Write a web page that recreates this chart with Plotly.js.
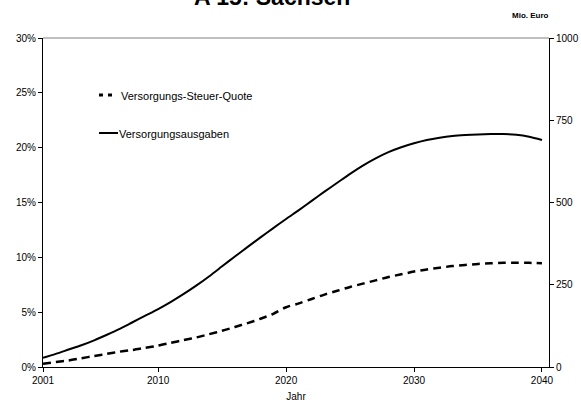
<!DOCTYPE html>
<html>
<head>
<meta charset="utf-8">
<script src="https://cdn.plot.ly/plotly-3.0.1.min.js"></script>
<style>html,body{margin:0;padding:0;background:#fff;}#chart{width:581px;height:410px;}</style>
</head>
<body>
<div id="chart"></div>
<script>
// ---- data ----
const years = [2001,2002,2003,2004,2005,2006,2007,2008,2009,2010,
               2011,2012,2013,2014,2015,2016,2017,2018,2019,2020,
               2021,2022,2023,2024,2025,2026,2027,2028,2029,2030,
               2031,2032,2033,2034,2035,2036,2037,2038,2039,2040];
// Versorgungs-Steuer-Quote in % (left axis)
const quote = [0.3,0.45,0.6,0.8,1.0,1.2,1.4,1.55,1.75,1.95,
               2.2,2.45,2.7,3.0,3.3,3.65,4.0,4.4,4.85,5.45,
               5.8,6.2,6.6,6.95,7.3,7.6,7.9,8.2,8.45,8.7,
               8.9,9.05,9.2,9.3,9.4,9.45,9.5,9.5,9.5,9.45];
// Versorgungsausgaben in Mio. Euro (right axis)
const ausgaben = [28,40,53,66,81,98,116,136,156,176,
                  198,222,248,276,306,336,365,394,422,450,
                  477,505,533,560,587,612,634,653,668,680,
                  690,697,702,705,707,708,708,706,700,690];
const xTicks = [2001,2010,2020,2030,2040];
const leftTicks = [0,5,10,15,20,25,30];
const leftTickText = ['0%','5%','10%','15%','20%','25%','30%'];
const rightTicks = [0,250,500,750,1000];
const seriesNames = ['Versorgungs-Steuer-Quote','Versorgungsausgaben'];

// ---- layout helpers (pixel -> paper) ----
const L = 43, R = 549, T = 38, B = 367;
const px = x => (x - L) / (R - L);
const py = y => (B - y) / (B - T);
const font = 'Arial, "Liberation Sans", sans-serif';

const traces = [
  {x: years, y: quote, type: 'scatter', mode: 'lines', name: seriesNames[0],
   line: {color: '#000', width: 2.5, dash: '8px,5px', shape: 'spline', smoothing: 0.8},
   yaxis: 'y', showlegend: false},
  {x: years, y: ausgaben, type: 'scatter', mode: 'lines', name: seriesNames[1],
   line: {color: '#000', width: 2, shape: 'spline', smoothing: 0.8},
   yaxis: 'y2', showlegend: false}
];

const layout = {
  width: 581, height: 410,
  margin: {l: L, r: 581 - R, t: T, b: 410 - B},
  paper_bgcolor: '#fff', plot_bgcolor: '#fff',
  font: {family: font, size: 10, color: '#000'},
  showlegend: false,
  xaxis: {
    range: [2001, 2040.55], tickvals: xTicks, ticktext: xTicks.map(String),
    showgrid: false, zeroline: false, showline: true, linecolor: '#000', linewidth: 1,
    ticks: 'outside', ticklen: 4, tickcolor: '#000',
    tickfont: {family: font, size: 10, color: '#000'},
    title: {text: 'Jahr', font: {family: font, size: 10, color: '#000'}, standoff: 7}
  },
  yaxis: {
    range: [0, 30], tickvals: leftTicks, ticktext: leftTickText,
    showgrid: false, zeroline: false, showline: true, linecolor: '#000', linewidth: 1,
    ticks: 'outside', ticklen: 4, tickcolor: '#000',
    tickfont: {family: font, size: 10, color: '#000'}
  },
  yaxis2: {
    range: [0, 1000], tickvals: rightTicks, overlaying: 'y', side: 'right',
    showgrid: false, zeroline: false, showline: true, linecolor: '#000', linewidth: 1,
    ticks: 'outside', ticklen: 4, tickcolor: '#000',
    tickfont: {family: font, size: 10, color: '#000'}
  },
  shapes: [
    {type: 'line', xref: 'paper', yref: 'paper', x0: 0, x1: 1, y0: 1, y1: 1,
     line: {color: '#808080', width: 1}},
    {type: 'line', xref: 'paper', yref: 'paper', x0: px(99), x1: px(113), y0: py(95), y1: py(95),
     line: {color: '#000', width: 3, dash: '4px,5px'}},
    {type: 'line', xref: 'paper', yref: 'paper', x0: px(99), x1: px(118), y0: py(133), y1: py(133),
     line: {color: '#000', width: 2}}
  ],
  annotations: [
    {text: '<b>A 15: Sachsen</b>', xref: 'paper', yref: 'paper', x: px(272), y: py(12),
     xanchor: 'center', yanchor: 'bottom', showarrow: false,
     font: {family: font, size: 23, color: '#000'}},
    {text: '<b>Mio. Euro</b>', xref: 'paper', yref: 'paper', x: px(551), y: py(15),
     xanchor: 'right', yanchor: 'middle', showarrow: false,
     font: {family: font, size: 8, color: '#000'}},
    {text: seriesNames[0], xref: 'paper', yref: 'paper', x: px(119), y: py(96),
     xanchor: 'left', yanchor: 'middle', showarrow: false,
     font: {family: font, size: 11, color: '#000'}},
    {text: seriesNames[1], xref: 'paper', yref: 'paper', x: px(117), y: py(134),
     xanchor: 'left', yanchor: 'middle', showarrow: false,
     font: {family: font, size: 11, color: '#000'}}
  ]
};

Plotly.newPlot('chart', traces, layout, {staticPlot: true, displayModeBar: false});
</script>
</body>
</html>
